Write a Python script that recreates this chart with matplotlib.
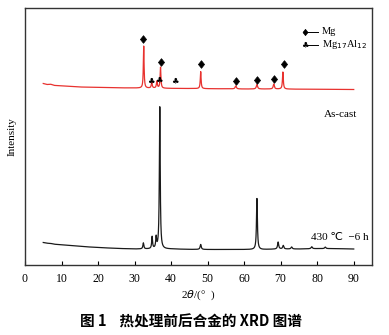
import numpy as np
import matplotlib.pyplot as plt

# baseline readings (2theta vs plot units)
base_x = [5, 6, 7, 8, 10, 12, 15, 20, 25, 30, 35, 40, 45, 50, 55, 60, 65, 70, 75, 80, 85, 90]
red_base = [181.5, 180.5, 180.8, 179.6, 179.2, 178.9, 178.0, 177.6, 177.2, 177.0, 176.8,
            176.6, 176.5, 176.3, 176.2, 176.0, 176.0, 176.0, 175.8, 175.8, 175.6, 175.5]
black_base = [22.5, 21.8, 21.6, 20.8, 20.2, 19.6, 18.6, 17.5, 16.6, 16.0, 16.0,
              16.0, 15.6, 15.5, 15.5, 15.5, 15.5, 16.0, 16.0, 16.4, 16.4, 16.0]

# as-cast peaks: position (2theta), height above baseline, half width
red_pos = [32.5, 34.7, 36.1, 37.1, 48.1, 57.7, 63.5, 68.1, 70.6]
red_h = [42, 6, 7, 21, 17, 3, 4.5, 5, 17]
red_w = [0.12, 0.15, 0.15, 0.13, 0.13, 0.2, 0.2, 0.18, 0.14]

# 430 C / 6 h peaks
blk_pos = [32.4, 34.8, 35.9, 36.9, 48.1, 63.5, 69.3, 70.7, 73.0, 78.5, 82.2]
blk_h = [6, 12, 11, 142, 5, 51, 7, 3.5, 2, 2, 1.5]
blk_w = [0.15, 0.14, 0.14, 0.14, 0.18, 0.15, 0.18, 0.18, 0.2, 0.2, 0.2]

# phase markers
mg_x = [32.4, 37.2, 48.2, 57.8, 63.5, 68.1, 71.0]
mg_y = [226, 203, 200.5, 183.5, 185, 186, 200.5]
al_x = [34.4, 36.7, 40.9]
al_y = [184, 185, 184]

diamond = [(-0.8, 0), (0, 1), (0.8, 0), (0, -1), (-0.8, 0)]


def profile(x, base, pos, h, w):
    y = np.interp(x, base_x, base)
    for p, a, g in zip(pos, h, w):
        y = y + a * g**2 / ((x - p) ** 2 + g**2)
    return y


x = np.arange(5, 90.001, 0.02)
red_y = profile(x, red_base, red_pos, red_h, red_w)
blk_y = profile(x, black_base, blk_pos, blk_h, blk_w)

plt.rcParams['font.family'] = ['Liberation Serif', 'DejaVu Sans']
fig = plt.figure(figsize=(3.89, 3.35), dpi=100)
ax = fig.add_axes([25 / 389, 1 - 265 / 335, 347 / 389, 257 / 335])

ax.plot(x, red_y, color='#e8322f', lw=0.9)
ax.plot(x, blk_y, color='#1a1a1a', lw=0.9)

ax.plot(mg_x, mg_y, ls='none', marker=diamond, color='black', ms=5.5, mew=0.5)
for cx, cy in zip(al_x, al_y):
    ax.text(cx, cy, '\u2663', ha='center', va='center', fontsize=6,
            family='DejaVu Sans', color='black')

# legend
ax.plot([76.6, 80.2], [233, 233], color='black', lw=0.7)
ax.plot([76.6], [233], ls='none', marker=diamond, color='black', ms=4.5, mew=0.5)
ax.text(81.2, 233, 'Mg', fontsize=7.5, va='center')
ax.plot([76.6, 80.2], [220, 220], color='black', lw=0.7)
ax.text(76.6, 220, '\u2663', ha='center', va='center', fontsize=6,
        family='DejaVu Sans')
ax.text(81.2, 220, r'Mg$_{17}$Al$_{12}$', fontsize=7.5, va='center')

ax.text(90.8, 150, 'As-cast', fontsize=8, ha='right', va='center')
ax.text(94.0, 27, '430 \u2103  \u22126 h', fontsize=8, ha='right', va='center')

ax.set_xlim(0, 95)
ax.set_ylim(0, 257)
ax.set_xticks(range(0, 91, 10))
ax.set_yticks([])
ax.tick_params(axis='x', direction='in', length=3, width=0.8, labelsize=8.5, pad=6)
for s in ax.spines.values():
    s.set_linewidth(1.0)
    s.set_color('#333333')

ax.set_ylabel('Intensity', fontsize=8, labelpad=6)
ax.set_xlabel(r'2$\it{\theta}$/(°  )', fontsize=8, labelpad=2)

fig.text(0.49, 1 - 322 / 335, '图 1    热处理前后合金的 XRD 图谱', ha='center',
         va='center', fontsize=10.5, fontweight='bold',
         family=['Noto Sans CJK SC', 'DejaVu Sans'])

fig.savefig('out.png', dpi=100)
